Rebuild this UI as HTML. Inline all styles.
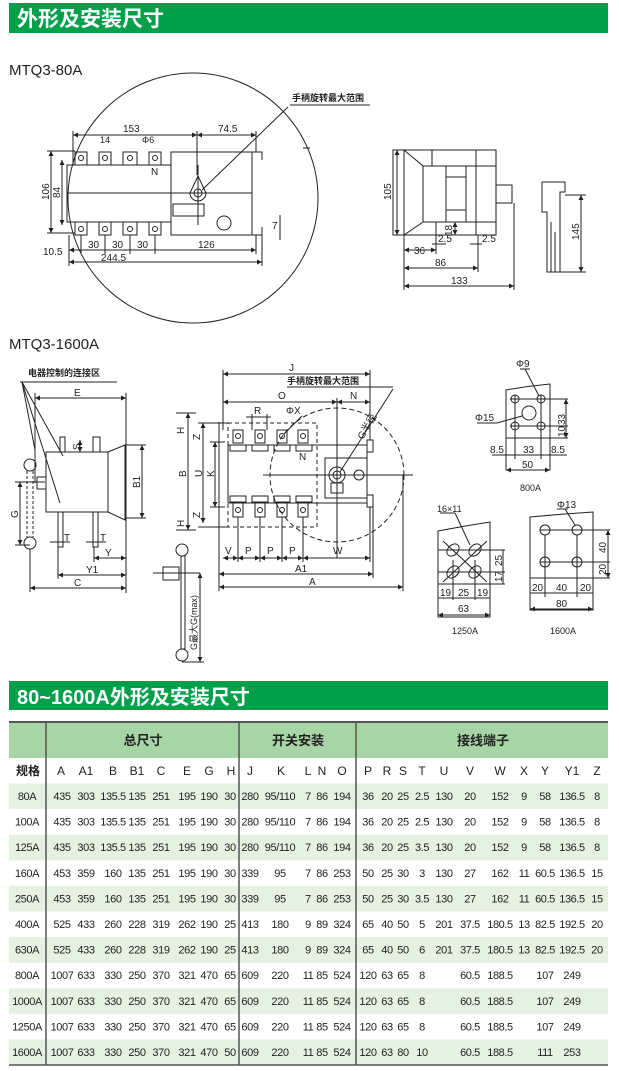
<!DOCTYPE html>
<html><head><meta charset="utf-8"><style>
html,body{margin:0;padding:0;background:#fff}
svg{display:block}
text{font-family:"Liberation Sans","Noto Sans CJK SC",sans-serif;fill:#222}
.d{font-size:10px}
.s{font-size:9px;font-weight:bold}
</style></head><body>
<svg width="619" height="1071" viewBox="0 0 619 1071" xmlns="http://www.w3.org/2000/svg">
<defs>
<marker id="a" viewBox="0 0 6 6" refX="6" refY="3" markerWidth="5" markerHeight="5" orient="auto-start-reverse"><path d="M0,0L6,3L0,6z" fill="#222"/></marker>
</defs>
<!-- banner 1 -->
<rect x="9" y="3" width="599" height="30" fill="#00a04a"/>
<text x="17" y="26" style="font-size:21px;font-weight:bold;fill:#fff">外形及安装尺寸</text>
<text x="9" y="75" style="font-size:15px">MTQ3-80A</text>

<g stroke="#222" stroke-width="1" fill="none">
<!-- 80A front -->
<circle cx="193" cy="198" r="125"/>
<rect x="67" y="165" width="104" height="57"/>
<rect x="171" y="152" width="81" height="83"/>
<rect x="173" y="204" width="31" height="12"/>
<line x1="67" y1="193" x2="252" y2="193"/>
<line x1="198" y1="165" x2="198" y2="225"/>
<path d="M190,193 L198,176 L206,193 A8,8 0 1 1 190,193"/>
<circle cx="198" cy="193" r="4"/>
<circle cx="224" cy="223" r="7"/>
<rect x="75" y="152" width="12" height="13"/><rect x="99" y="152" width="12" height="13"/><rect x="123" y="152" width="14" height="13"/><rect x="149" y="152" width="12" height="13"/>
<rect x="75" y="222" width="12" height="13"/><rect x="99" y="222" width="12" height="13"/><rect x="123" y="222" width="14" height="13"/><rect x="149" y="222" width="12" height="13"/>
<circle cx="81" cy="158" r="2.5"/><circle cx="105" cy="158" r="2.5"/><circle cx="130" cy="158" r="2.5"/><circle cx="155" cy="158" r="2.5"/>
<circle cx="81" cy="229" r="2.5"/><circle cx="105" cy="229" r="2.5"/><circle cx="130" cy="229" r="2.5"/><circle cx="155" cy="229" r="2.5"/>
<path d="M252,152 h10 v8 M252,235 h10 v-8"/>
<line x1="288" y1="107" x2="202" y2="190"/>
<line x1="290" y1="105" x2="370" y2="105"/>
<line x1="73" y1="135" x2="197" y2="135" marker-start="url(#a)" marker-end="url(#a)"/>
<line x1="197" y1="135" x2="256" y2="135" marker-start="url(#a)" marker-end="url(#a)"/>
<line x1="73" y1="131" x2="73" y2="165"/><line x1="197" y1="131" x2="197" y2="175"/><line x1="256" y1="131" x2="256" y2="152"/>
<line x1="51" y1="151" x2="51" y2="233" marker-start="url(#a)" marker-end="url(#a)"/>
<line x1="62" y1="160" x2="62" y2="225" marker-start="url(#a)" marker-end="url(#a)"/>
<line x1="47" y1="151" x2="75" y2="151"/><line x1="47" y1="233" x2="75" y2="233"/>
<line x1="69" y1="250" x2="256" y2="250" marker-start="url(#a)" marker-end="url(#a)"/>
<line x1="69" y1="262" x2="262" y2="262" marker-start="url(#a)" marker-end="url(#a)"/>
<line x1="69" y1="235" x2="69" y2="266"/><line x1="262" y1="235" x2="262" y2="266"/><line x1="256" y1="235" x2="256" y2="254"/>
<line x1="81" y1="235" x2="81" y2="254"/><line x1="105" y1="235" x2="105" y2="254"/><line x1="130" y1="235" x2="130" y2="254"/><line x1="155" y1="235" x2="155" y2="254"/>
<line x1="280" y1="215" x2="280" y2="240"/>
<line x1="303" y1="148" x2="310" y2="148"/>
<!-- side view -->
<rect x="393" y="150" width="103" height="85"/>
<path d="M404,150 L423,166 L423,222 L404,235 Z"/>
<rect x="423" y="166" width="73" height="56"/>
<line x1="432" y1="150" x2="432" y2="166"/><line x1="446" y1="166" x2="446" y2="222"/><line x1="466" y1="166" x2="466" y2="222"/><line x1="476" y1="150" x2="476" y2="235"/>
<line x1="446" y1="177" x2="466" y2="177"/><line x1="446" y1="210" x2="466" y2="210"/>
<rect x="496" y="185" width="16" height="18"/>
<line x1="397" y1="150" x2="397" y2="235" marker-start="url(#a)" marker-end="url(#a)"/>
<line x1="404" y1="250" x2="436" y2="250" marker-start="url(#a)" marker-end="url(#a)"/>
<line x1="404" y1="268" x2="478" y2="268" marker-start="url(#a)" marker-end="url(#a)"/>
<line x1="404" y1="286" x2="514" y2="286" marker-start="url(#a)" marker-end="url(#a)"/>
<line x1="404" y1="235" x2="404" y2="290"/><line x1="478" y1="235" x2="478" y2="272"/><line x1="514" y1="203" x2="514" y2="290"/><line x1="436" y1="222" x2="436" y2="254"/>
<line x1="455" y1="222" x2="455" y2="235" marker-start="url(#a)" marker-end="url(#a)"/>
<line x1="432" y1="244" x2="446" y2="244"/><line x1="470" y1="244" x2="482" y2="244"/>
<!-- bracket -->
<path d="M542,182 h23 v10 h-5 v80 h-13 v-60 h-5 z"/>
<path d="M547,212 v55 M551,222 v50 M555,232 v40"/>
<line x1="581" y1="195" x2="581" y2="272" marker-start="url(#a)" marker-end="url(#a)"/>
<line x1="565" y1="195" x2="586" y2="195"/><line x1="560" y1="272" x2="586" y2="272"/>
</g>
<g class="d">
<text x="292" y="101" class="s">手柄旋转最大范围</text>
<text x="123" y="132">153</text><text x="218" y="132">74.5</text>
<text x="100" y="143" style="font-size:9px">14</text><text x="142" y="143" style="font-size:9px">Φ6</text>
<text x="151" y="175">N</text>
<text x="43" y="255">10.5</text><text x="88" y="248">30</text><text x="112" y="248">30</text><text x="137" y="248">30</text><text x="198" y="248">126</text>
<text x="101" y="261">244.5</text><text x="272" y="229">7</text>
<text transform="translate(49,200) rotate(-90)">106</text>
<text transform="translate(60,198) rotate(-90)">84</text>
<text transform="translate(391,200) rotate(-90)">105</text>
<text transform="translate(452,236) rotate(-90)">18</text>
<text x="438" y="242">2.5</text><text x="482" y="242">2.5</text>
<text x="414" y="254">36</text><text x="435" y="266">86</text><text x="451" y="284">133</text>
<text transform="translate(579,240) rotate(-90)">145</text>
</g>

<text x="9" y="349" style="font-size:15px">MTQ3-1600A</text>
<g stroke="#222" stroke-width="1" fill="none">
<!-- left side view -->
<line x1="20" y1="382" x2="117" y2="382"/>
<line x1="22" y1="382" x2="63" y2="456"/><line x1="22" y1="382" x2="60" y2="503"/><line x1="22" y1="382" x2="35" y2="450"/>
<rect x="46" y="452" width="62" height="60"/>
<path d="M108,452 L125,445 L125,520 L108,512"/>
<line x1="125" y1="445" x2="146" y2="445"/><line x1="125" y1="518" x2="146" y2="518"/>
<line x1="142" y1="445" x2="142" y2="518" marker-start="url(#a)" marker-end="url(#a)"/>
<line x1="35" y1="398" x2="126" y2="398" marker-start="url(#a)" marker-end="url(#a)"/>
<line x1="35" y1="393" x2="35" y2="483"/><line x1="126" y1="393" x2="126" y2="593"/>
<rect x="60" y="437" width="5" height="15"/><rect x="93" y="437" width="7" height="15"/>
<line x1="80" y1="440" x2="80" y2="452" marker-start="url(#a)" marker-end="url(#a)"/>
<circle cx="30" cy="465" r="6"/><circle cx="30" cy="543" r="6"/>
<line x1="27" y1="471" x2="27" y2="537" stroke-dasharray="3,2"/><line x1="33" y1="471" x2="33" y2="537" stroke-dasharray="3,2"/>
<rect x="37" y="477" width="9" height="12"/>
<line x1="15" y1="482" x2="45" y2="482"/><line x1="15" y1="545" x2="30" y2="545"/>
<line x1="20" y1="482" x2="20" y2="545" marker-start="url(#a)" marker-end="url(#a)"/>
<rect x="58" y="512" width="5" height="35"/><rect x="93" y="512" width="5" height="35"/>
<line x1="50" y1="542" x2="70" y2="542"/><line x1="86" y1="542" x2="106" y2="542"/>
<line x1="94" y1="558" x2="126" y2="558" marker-start="url(#a)" marker-end="url(#a)"/>
<line x1="58" y1="575" x2="126" y2="575" marker-start="url(#a)" marker-end="url(#a)"/>
<line x1="30" y1="588" x2="126" y2="588" marker-start="url(#a)" marker-end="url(#a)"/>
<line x1="58" y1="547" x2="58" y2="579"/><line x1="30" y1="549" x2="30" y2="592"/><line x1="94" y1="547" x2="94" y2="562"/>
<!-- front view -->
<rect x="228" y="423" width="89" height="104" stroke-dasharray="4,3"/>
<rect x="228" y="445" width="139" height="58"/>
<rect x="325" y="458" width="42" height="40"/>
<circle cx="337" cy="475" r="67" stroke-dasharray="5,3"/>
<line x1="263" y1="475" x2="413" y2="475"/>
<line x1="337" y1="398" x2="337" y2="558"/>
<circle cx="337" cy="475" r="8"/><circle cx="337" cy="475" r="4"/><circle cx="359" cy="475" r="5"/>
<rect x="331" y="483" width="12" height="10"/>
<rect x="233" y="430" width="10" height="13"/><rect x="255" y="430" width="10" height="13"/><rect x="277" y="430" width="10" height="13"/><rect x="298" y="430" width="10" height="13"/>
<rect x="233" y="503" width="10" height="14"/><rect x="255" y="503" width="10" height="14"/><rect x="277" y="503" width="10" height="14"/><rect x="298" y="503" width="10" height="14"/>
<circle cx="238" cy="436" r="2.5"/><circle cx="260" cy="436" r="2.5"/><circle cx="282" cy="436" r="2.5"/><circle cx="303" cy="436" r="2.5"/>
<circle cx="238" cy="510" r="2.5"/><circle cx="260" cy="510" r="2.5"/><circle cx="282" cy="510" r="2.5"/><circle cx="303" cy="510" r="2.5"/>
<rect x="230" y="445" width="16" height="6"/><rect x="252" y="445" width="16" height="6"/><rect x="274" y="445" width="16" height="6"/><rect x="296" y="445" width="16" height="6"/>
<rect x="230" y="496" width="16" height="6"/><rect x="252" y="496" width="16" height="6"/><rect x="274" y="496" width="16" height="6"/><rect x="296" y="496" width="16" height="6"/>
<rect x="367" y="440" width="6" height="12"/><rect x="367" y="495" width="6" height="12"/>
<line x1="223" y1="374" x2="370" y2="374" marker-start="url(#a)" marker-end="url(#a)"/>
<line x1="223" y1="402" x2="337" y2="402" marker-start="url(#a)" marker-end="url(#a)"/>
<line x1="337" y1="402" x2="370" y2="402" marker-start="url(#a)" marker-end="url(#a)"/>
<line x1="223" y1="370" x2="223" y2="430"/><line x1="370" y1="370" x2="370" y2="440"/>
<line x1="287" y1="387" x2="393" y2="387"/><line x1="393" y1="389" x2="340" y2="472"/>
<line x1="246" y1="417" x2="271" y2="417"/><line x1="252" y1="414" x2="252" y2="430"/><line x1="267" y1="414" x2="267" y2="430"/>
<line x1="302" y1="416" x2="284" y2="434"/>
<line x1="176" y1="413" x2="196" y2="413"/><line x1="176" y1="530" x2="196" y2="530"/>
<line x1="188" y1="413" x2="188" y2="530" marker-start="url(#a)" marker-end="url(#a)"/>
<line x1="203" y1="423" x2="203" y2="523" marker-start="url(#a)" marker-end="url(#a)"/>
<line x1="215" y1="442" x2="215" y2="507" marker-start="url(#a)" marker-end="url(#a)"/>
<line x1="198" y1="423" x2="228" y2="423"/><line x1="198" y1="527" x2="228" y2="527"/>
<line x1="210" y1="442" x2="225" y2="442"/><line x1="210" y1="507" x2="225" y2="507"/>
<line x1="223" y1="558" x2="238" y2="558" marker-start="url(#a)" marker-end="url(#a)"/>
<line x1="238" y1="558" x2="260" y2="558" marker-start="url(#a)" marker-end="url(#a)"/>
<line x1="260" y1="558" x2="282" y2="558" marker-start="url(#a)" marker-end="url(#a)"/>
<line x1="282" y1="558" x2="303" y2="558" marker-start="url(#a)" marker-end="url(#a)"/>
<line x1="303" y1="558" x2="370" y2="558" marker-start="url(#a)" marker-end="url(#a)"/>
<line x1="238" y1="517" x2="238" y2="562"/><line x1="260" y1="517" x2="260" y2="562"/><line x1="282" y1="517" x2="282" y2="562"/><line x1="303" y1="517" x2="303" y2="562"/>
<line x1="219" y1="574" x2="373" y2="574" marker-start="url(#a)" marker-end="url(#a)"/>
<line x1="219" y1="587" x2="403" y2="587" marker-start="url(#a)" marker-end="url(#a)"/>
<line x1="219" y1="422" x2="219" y2="591"/><line x1="373" y1="503" x2="373" y2="578"/><line x1="370" y1="507" x2="370" y2="562"/><line x1="403" y1="475" x2="403" y2="591"/>
<!-- handle below -->
<circle cx="182" cy="550" r="6"/><circle cx="182" cy="655" r="6"/>
<rect x="181" y="556" width="4" height="93"/>
<rect x="163" y="567" width="16" height="13"/><line x1="153" y1="573" x2="200" y2="573"/>
<line x1="200" y1="573" x2="200" y2="662" marker-start="url(#a)" marker-end="url(#a)"/>
<line x1="182" y1="662" x2="204" y2="662"/>
<!-- hole patterns 800A -->
<path d="M506,470 V390 Q528,386 550,384 V470 Z"/>
<circle cx="515" cy="399" r="4"/><circle cx="541" cy="399" r="4"/><circle cx="515" cy="426" r="4"/><circle cx="541" cy="426" r="4"/>
<circle cx="529" cy="413" r="7"/>
<line x1="510" y1="399" x2="568" y2="399"/><line x1="510" y1="426" x2="568" y2="426"/><line x1="506" y1="438" x2="568" y2="438"/>
<line x1="515" y1="395" x2="515" y2="459"/><line x1="541" y1="395" x2="541" y2="459"/>
<line x1="566" y1="399" x2="566" y2="438" marker-start="url(#a)" marker-end="url(#a)"/>
<line x1="492" y1="455" x2="567" y2="455"/><line x1="506" y1="470" x2="550" y2="470" marker-start="url(#a)" marker-end="url(#a)"/>
<line x1="520" y1="369" x2="530" y2="369"/><line x1="525" y1="369" x2="539" y2="396"/>
<line x1="477" y1="423" x2="497" y2="423"/><line x1="497" y1="423" x2="522" y2="416"/>
<!-- 1250A -->
<path d="M438,617 V531 Q464,526 490,522 V617 Z"/>
<ellipse cx="453" cy="550" rx="7" ry="5" transform="rotate(-45 453 550)"/><ellipse cx="475" cy="550" rx="7" ry="5" transform="rotate(-45 475 550)"/>
<ellipse cx="453" cy="572" rx="7" ry="5" transform="rotate(-45 453 572)"/><ellipse cx="475" cy="572" rx="7" ry="5" transform="rotate(-45 475 572)"/>
<line x1="443" y1="541" x2="487" y2="582"/><line x1="487" y1="541" x2="443" y2="582"/>
<line x1="438" y1="550" x2="505" y2="550"/><line x1="438" y1="572" x2="505" y2="572"/><line x1="438" y1="584" x2="505" y2="584"/>
<line x1="503" y1="550" x2="503" y2="584"/>
<line x1="453" y1="560" x2="453" y2="600"/><line x1="475" y1="560" x2="475" y2="600"/>
<line x1="438" y1="598" x2="490" y2="598"/><line x1="438" y1="615" x2="490" y2="615" marker-start="url(#a)" marker-end="url(#a)"/>
<line x1="440" y1="513" x2="455" y2="513"/><line x1="455" y1="513" x2="470" y2="545"/>
<!-- 1600A -->
<path d="M530,610 V517 Q562,514 593,512 V610 Z"/>
<circle cx="545" cy="530" r="5"/><circle cx="577" cy="530" r="5"/><circle cx="545" cy="562" r="5"/><circle cx="577" cy="562" r="5"/>
<line x1="540" y1="530" x2="610" y2="530"/><line x1="540" y1="562" x2="610" y2="562"/><line x1="530" y1="578" x2="610" y2="578"/>
<line x1="608" y1="530" x2="608" y2="578" marker-start="url(#a)" marker-end="url(#a)"/>
<line x1="545" y1="535" x2="545" y2="597"/><line x1="577" y1="535" x2="577" y2="597"/>
<line x1="530" y1="593" x2="593" y2="593"/><line x1="530" y1="609" x2="593" y2="609" marker-start="url(#a)" marker-end="url(#a)"/>
<line x1="557" y1="509" x2="568" y2="509"/><line x1="565" y1="509" x2="575" y2="525"/>
</g>
<g class="d">
<text x="28" y="376" class="s">电器控制的连接区</text>
<text x="74" y="396">E</text>
<text transform="translate(140,488) rotate(-90)">B1</text>
<text transform="translate(80,450) rotate(-90)">S</text>
<text transform="translate(18,518) rotate(-90)">G</text>
<text x="64" y="541">T</text><text x="100" y="541">T</text><text x="105" y="556">Y</text><text x="86" y="573">Y1</text><text x="74" y="586">C</text>
<text x="289" y="371">J</text>
<text x="287" y="384" class="s">手柄旋转最大范围</text>
<text x="278" y="399">O</text><text x="350" y="399">N</text>
<text x="254" y="414">R</text><text x="286" y="414">ΦX</text><text x="299" y="460">N</text>
<text transform="translate(184,434) rotate(-90)">H</text><text transform="translate(184,527) rotate(-90)">H</text>
<text transform="translate(200,440) rotate(-90)">Z</text><text transform="translate(200,518) rotate(-90)">Z</text>
<text transform="translate(186,477) rotate(-90)">B</text><text transform="translate(202,477) rotate(-90)">U</text><text transform="translate(214,477) rotate(-90)">K</text>
<text transform="translate(363,440) rotate(-60)">G半径</text>
<text x="225" y="554">V</text><text x="245" y="554">P</text><text x="267" y="554">P</text><text x="289" y="554">P</text><text x="333" y="554">W</text>
<text x="295" y="572">A1</text><text x="309" y="585">A</text>
<text transform="translate(197,650) rotate(-90)" style="font-size:9px">G最大G(max)</text>
<text x="516" y="367">Φ9</text><text x="475" y="421">Φ15</text>
<text transform="translate(565,425) rotate(-90)">33</text><text transform="translate(565,437) rotate(-90)">10</text>
<text x="490" y="453">8.5</text><text x="523" y="453">33</text><text x="551" y="453">8.5</text>
<text x="522" y="468">50</text><text x="520" y="491" style="font-size:9px">800A</text>
<text x="437" y="512" style="font-size:9px">16×11</text>
<text transform="translate(502,566) rotate(-90)">25</text><text transform="translate(502,582) rotate(-90)">17</text>
<text x="440" y="596">19</text><text x="458" y="596">25</text><text x="477" y="596">19</text>
<text x="458" y="612">63</text><text x="452" y="634" style="font-size:9px">1250A</text>
<text x="557" y="508">Φ13</text>
<text transform="translate(606,553) rotate(-90)">40</text><text transform="translate(606,575) rotate(-90)">20</text>
<text x="532" y="591">20</text><text x="556" y="591">40</text><text x="580" y="591">20</text>
<text x="556" y="607">80</text><text x="550" y="634" style="font-size:9px">1600A</text>
</g>

<!-- banner 2 -->
<rect x="9" y="681" width="599" height="29" fill="#00a04a"/>
<text x="17" y="704" style="font-size:20px;font-weight:bold;fill:#fff">80~1600A外形及安装尺寸</text>

<!-- table -->
<rect x="9" y="722" width="599" height="36" fill="#a8d5a6"/>
<g fill="#e5f2e1">
<rect x="9" y="783.5" width="599" height="25.6"/><rect x="9" y="834.7" width="599" height="25.6"/><rect x="9" y="885.9" width="599" height="25.6"/>
<rect x="9" y="937.1" width="599" height="25.6"/><rect x="9" y="988.3" width="599" height="25.6"/><rect x="9" y="1039.5" width="599" height="25.6"/>
</g>
<line x1="9" y1="722" x2="608" y2="722" stroke="#555" stroke-width="2"/>
<line x1="9" y1="1065" x2="608" y2="1065" stroke="#555" stroke-width="1.5"/>
<g stroke="#555" stroke-width="1.5"><line x1="46" y1="722" x2="46" y2="1065"/><line x1="239" y1="722" x2="239" y2="1065"/><line x1="356" y1="722" x2="356" y2="1065"/></g>
<g style="font-size:13px;font-weight:bold" text-anchor="middle">
<text x="143" y="745">总尺寸</text><text x="298" y="745">开关安装</text><text x="483" y="745">接线端子</text>
</g>
<g id="tbl" style="font-size:12px" text-anchor="middle">
<text x="28" y="775" style="font-weight:bold">规格</text>
<text x="61" y="775">A</text><text x="86" y="775">A1</text><text x="113" y="775">B</text><text x="137" y="775">B1</text><text x="161" y="775">C</text><text x="187" y="775">E</text><text x="209" y="775">G</text><text x="231" y="775">H</text>
<text x="250" y="775">J</text><text x="281" y="775">K</text><text x="308" y="775">L</text><text x="322" y="775">N</text><text x="342" y="775">O</text>
<text x="368" y="775">P</text><text x="387" y="775">R</text><text x="403" y="775">S</text><text x="422" y="775">T</text><text x="444" y="775">U</text><text x="470" y="775">V</text><text x="500" y="775">W</text><text x="524" y="775">X</text><text x="545" y="775">Y</text><text x="572" y="775">Y1</text><text x="597" y="775">Z</text>
</g>
<g style="font-size:11px;letter-spacing:-0.4px" text-anchor="middle">
<!-- rows generated manually -->
<g transform="translate(0,800)"><text x="27">80A</text><text x="62">435</text><text x="86">303</text><text x="113">135.5</text><text x="137">135</text><text x="161">251</text><text x="187">195</text><text x="209">190</text><text x="230">30</text><text x="250">280</text><text x="280">95/110</text><text x="308">7</text><text x="322">86</text><text x="342">194</text><text x="368">36</text><text x="387">20</text><text x="403">25</text><text x="422">2.5</text><text x="444">130</text><text x="470">20</text><text x="500">152</text><text x="524">9</text><text x="545">58</text><text x="572">136.5</text><text x="597">8</text></g>
<g transform="translate(0,825.6)"><text x="27">100A</text><text x="62">435</text><text x="86">303</text><text x="113">135.5</text><text x="137">135</text><text x="161">251</text><text x="187">195</text><text x="209">190</text><text x="230">30</text><text x="250">280</text><text x="280">95/110</text><text x="308">7</text><text x="322">86</text><text x="342">194</text><text x="368">36</text><text x="387">20</text><text x="403">25</text><text x="422">2.5</text><text x="444">130</text><text x="470">20</text><text x="500">152</text><text x="524">9</text><text x="545">58</text><text x="572">136.5</text><text x="597">8</text></g>
<g transform="translate(0,851.2)"><text x="27">125A</text><text x="62">435</text><text x="86">303</text><text x="113">135.5</text><text x="137">135</text><text x="161">251</text><text x="187">195</text><text x="209">190</text><text x="230">30</text><text x="250">280</text><text x="280">95/110</text><text x="308">7</text><text x="322">86</text><text x="342">194</text><text x="368">36</text><text x="387">20</text><text x="403">25</text><text x="422">3.5</text><text x="444">130</text><text x="470">20</text><text x="500">152</text><text x="524">9</text><text x="545">58</text><text x="572">136.5</text><text x="597">8</text></g>
<g transform="translate(0,876.8)"><text x="27">160A</text><text x="62">453</text><text x="86">359</text><text x="113">160</text><text x="137">135</text><text x="161">251</text><text x="187">195</text><text x="209">190</text><text x="230">30</text><text x="250">339</text><text x="280">95</text><text x="308">7</text><text x="322">86</text><text x="342">253</text><text x="368">50</text><text x="387">25</text><text x="403">30</text><text x="422">3</text><text x="444">130</text><text x="470">27</text><text x="500">162</text><text x="524">11</text><text x="545">60.5</text><text x="572">136.5</text><text x="597">15</text></g>
<g transform="translate(0,902.4)"><text x="27">250A</text><text x="62">453</text><text x="86">359</text><text x="113">160</text><text x="137">135</text><text x="161">251</text><text x="187">195</text><text x="209">190</text><text x="230">30</text><text x="250">339</text><text x="280">95</text><text x="308">7</text><text x="322">86</text><text x="342">253</text><text x="368">50</text><text x="387">25</text><text x="403">30</text><text x="422">3.5</text><text x="444">130</text><text x="470">27</text><text x="500">162</text><text x="524">11</text><text x="545">60.5</text><text x="572">136.5</text><text x="597">15</text></g>
<g transform="translate(0,928)"><text x="27">400A</text><text x="62">525</text><text x="86">433</text><text x="113">260</text><text x="137">228</text><text x="161">319</text><text x="187">262</text><text x="209">190</text><text x="230">25</text><text x="250">413</text><text x="280">180</text><text x="308">9</text><text x="322">89</text><text x="342">324</text><text x="368">65</text><text x="387">40</text><text x="403">50</text><text x="422">5</text><text x="444">201</text><text x="470">37.5</text><text x="500">180.5</text><text x="524">13</text><text x="545">82.5</text><text x="572">192.5</text><text x="597">20</text></g>
<g transform="translate(0,953.6)"><text x="27">630A</text><text x="62">525</text><text x="86">433</text><text x="113">260</text><text x="137">228</text><text x="161">319</text><text x="187">262</text><text x="209">190</text><text x="230">25</text><text x="250">413</text><text x="280">180</text><text x="308">9</text><text x="322">89</text><text x="342">324</text><text x="368">65</text><text x="387">40</text><text x="403">50</text><text x="422">6</text><text x="444">201</text><text x="470">37.5</text><text x="500">180.5</text><text x="524">13</text><text x="545">82.5</text><text x="572">192.5</text><text x="597">20</text></g>
<g transform="translate(0,979.2)"><text x="27">800A</text><text x="62">1007</text><text x="86">633</text><text x="113">330</text><text x="137">250</text><text x="161">370</text><text x="187">321</text><text x="209">470</text><text x="230">65</text><text x="250">609</text><text x="280">220</text><text x="308">11</text><text x="322">85</text><text x="342">524</text><text x="368">120</text><text x="387">63</text><text x="403">65</text><text x="422">8</text><text x="470">60.5</text><text x="500">188.5</text><text x="545">107</text><text x="572">249</text></g>
<g transform="translate(0,1004.8)"><text x="27">1000A</text><text x="62">1007</text><text x="86">633</text><text x="113">330</text><text x="137">250</text><text x="161">370</text><text x="187">321</text><text x="209">470</text><text x="230">65</text><text x="250">609</text><text x="280">220</text><text x="308">11</text><text x="322">85</text><text x="342">524</text><text x="368">120</text><text x="387">63</text><text x="403">65</text><text x="422">8</text><text x="470">60.5</text><text x="500">188.5</text><text x="545">107</text><text x="572">249</text></g>
<g transform="translate(0,1030.4)"><text x="27">1250A</text><text x="62">1007</text><text x="86">633</text><text x="113">330</text><text x="137">250</text><text x="161">370</text><text x="187">321</text><text x="209">470</text><text x="230">65</text><text x="250">609</text><text x="280">220</text><text x="308">11</text><text x="322">85</text><text x="342">524</text><text x="368">120</text><text x="387">63</text><text x="403">65</text><text x="422">8</text><text x="470">60.5</text><text x="500">188.5</text><text x="545">107</text><text x="572">249</text></g>
<g transform="translate(0,1056)"><text x="27">1600A</text><text x="62">1007</text><text x="86">633</text><text x="113">330</text><text x="137">250</text><text x="161">370</text><text x="187">321</text><text x="209">470</text><text x="230">50</text><text x="250">609</text><text x="280">220</text><text x="308">11</text><text x="322">85</text><text x="342">524</text><text x="368">120</text><text x="387">63</text><text x="403">80</text><text x="422">10</text><text x="470">60.5</text><text x="500">188.5</text><text x="545">111</text><text x="572">253</text></g>
</g>
</svg>
</body></html>
